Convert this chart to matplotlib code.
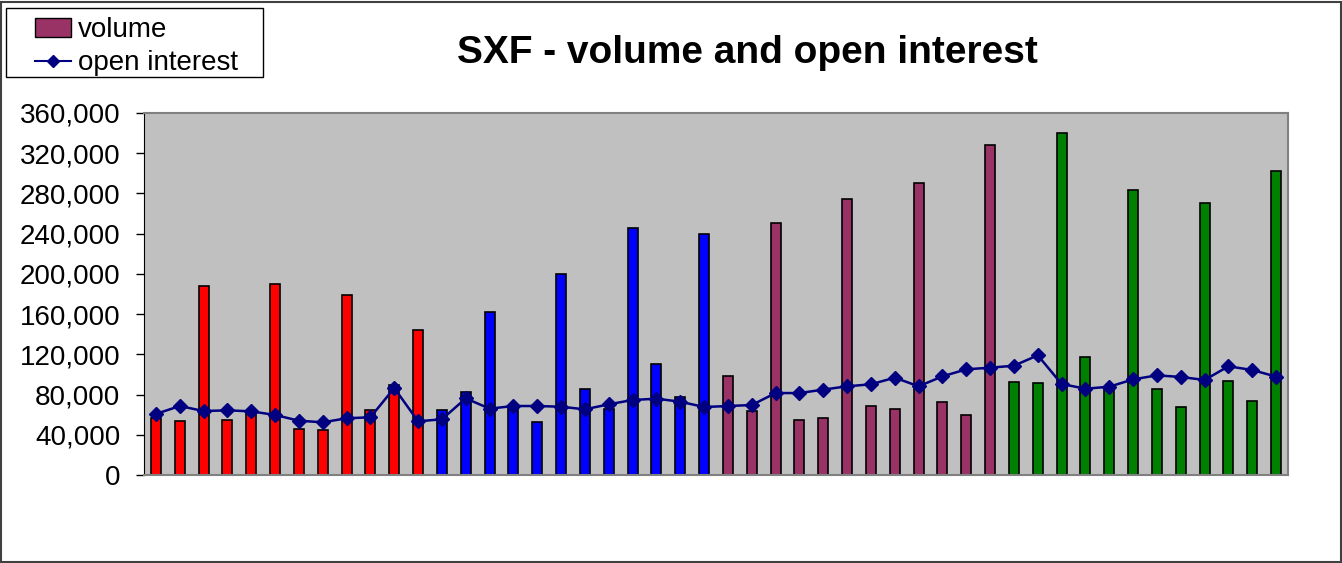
import matplotlib.pyplot as plt
from matplotlib.lines import Line2D
from matplotlib.patches import Patch, Rectangle
from matplotlib.ticker import FuncFormatter
import numpy as np

plt.rcParams['font.family'] = ['Liberation Sans', 'DejaVu Sans']

# volume per month, four colour groups of 12
volume = [56400, 54000, 188300, 55000, 62300, 189600, 46100, 44400, 179300, 65000, 89200, 144500,
          64600, 82500, 162100, 67900, 52700, 200200, 85500, 66000, 245300, 110700, 77200, 239700,
          98500, 63900, 250900, 54700, 56400, 274100, 68300, 65600, 290700, 72600, 59700, 328200,
          92500, 91500, 339800, 117700, 86200, 283400, 85800, 67600, 270800, 93500, 73900, 302300]
open_interest = [60700, 68600, 63600, 64300, 63300, 59700, 54000, 52400, 56400, 57400, 86500, 53400,
                 55400, 76200, 66000, 68600, 68600, 67900, 65300, 70300, 74600, 75900, 72900, 67600,
                 68600, 69600, 81500, 81500, 84900, 88200, 90200, 96800, 88200, 98100, 105100, 106700,
                 108700, 119000, 90500, 85800, 87800, 95100, 99100, 97500, 94500, 108100, 104400, 97800]
group_colors = ['#FF0000', '#0000FF', '#993366', '#008000']

x = np.arange(len(volume))
bar_colors = [group_colors[i // 12] for i in x]

fig = plt.figure(figsize=(13.42, 5.63), dpi=100)
ax = fig.add_axes([0.1073, 0.1563, 0.8525, 0.643])
ax.set_facecolor('#C0C0C0')

ax.bar(x, volume, width=0.42, color=bar_colors, edgecolor='black', linewidth=1.2, zorder=2)
ax.plot(x, open_interest, color='#000080', linewidth=1.8, marker='D', markersize=7, zorder=3)

ax.set_xlim(-0.5, len(volume) - 0.5)
ax.set_ylim(0, 360000)
ax.set_yticks(np.arange(0, 360001, 40000))
ax.yaxis.set_major_formatter(FuncFormatter(lambda v, p: '{:,.0f}'.format(v)))
ax.tick_params(axis='y', labelsize=20, length=6, width=1, pad=11, direction='out')
ax.set_xticks([])
for side in ['top', 'right', 'bottom']:
    ax.spines[side].set_color('#808080')
    ax.spines[side].set_linewidth(1.5)
ax.spines['left'].set_color('black')

fig.text(0.557, 0.905, 'SXF - volume and open interest', ha='center', va='center',
         fontsize=28, fontweight='bold')

# legend box drawn by hand, entries placed inside it
fig.patches.append(Rectangle((0.00447, 0.8632), 0.1915, 0.1226, transform=fig.transFigure,
                             fill=False, edgecolor='black', linewidth=1))
handles = [Patch(facecolor='#993366', edgecolor='black', label='volume'),
           Line2D([0], [0], color='#000080', marker='D', markersize=6, linewidth=1.5, label='open interest')]
fig.legend(handles=handles, loc='upper left', bbox_to_anchor=(0.026, 0.969), fontsize=20,
           frameon=False, borderpad=0, labelspacing=0.25, handlelength=1.3,
           handletextpad=0.25, borderaxespad=0)

fig.patches.append(Rectangle((0.0005, 0.002), 0.999, 0.994, transform=fig.transFigure,
                             fill=False, edgecolor='#404040', linewidth=1.5))

fig.savefig('out.png', dpi=100)
